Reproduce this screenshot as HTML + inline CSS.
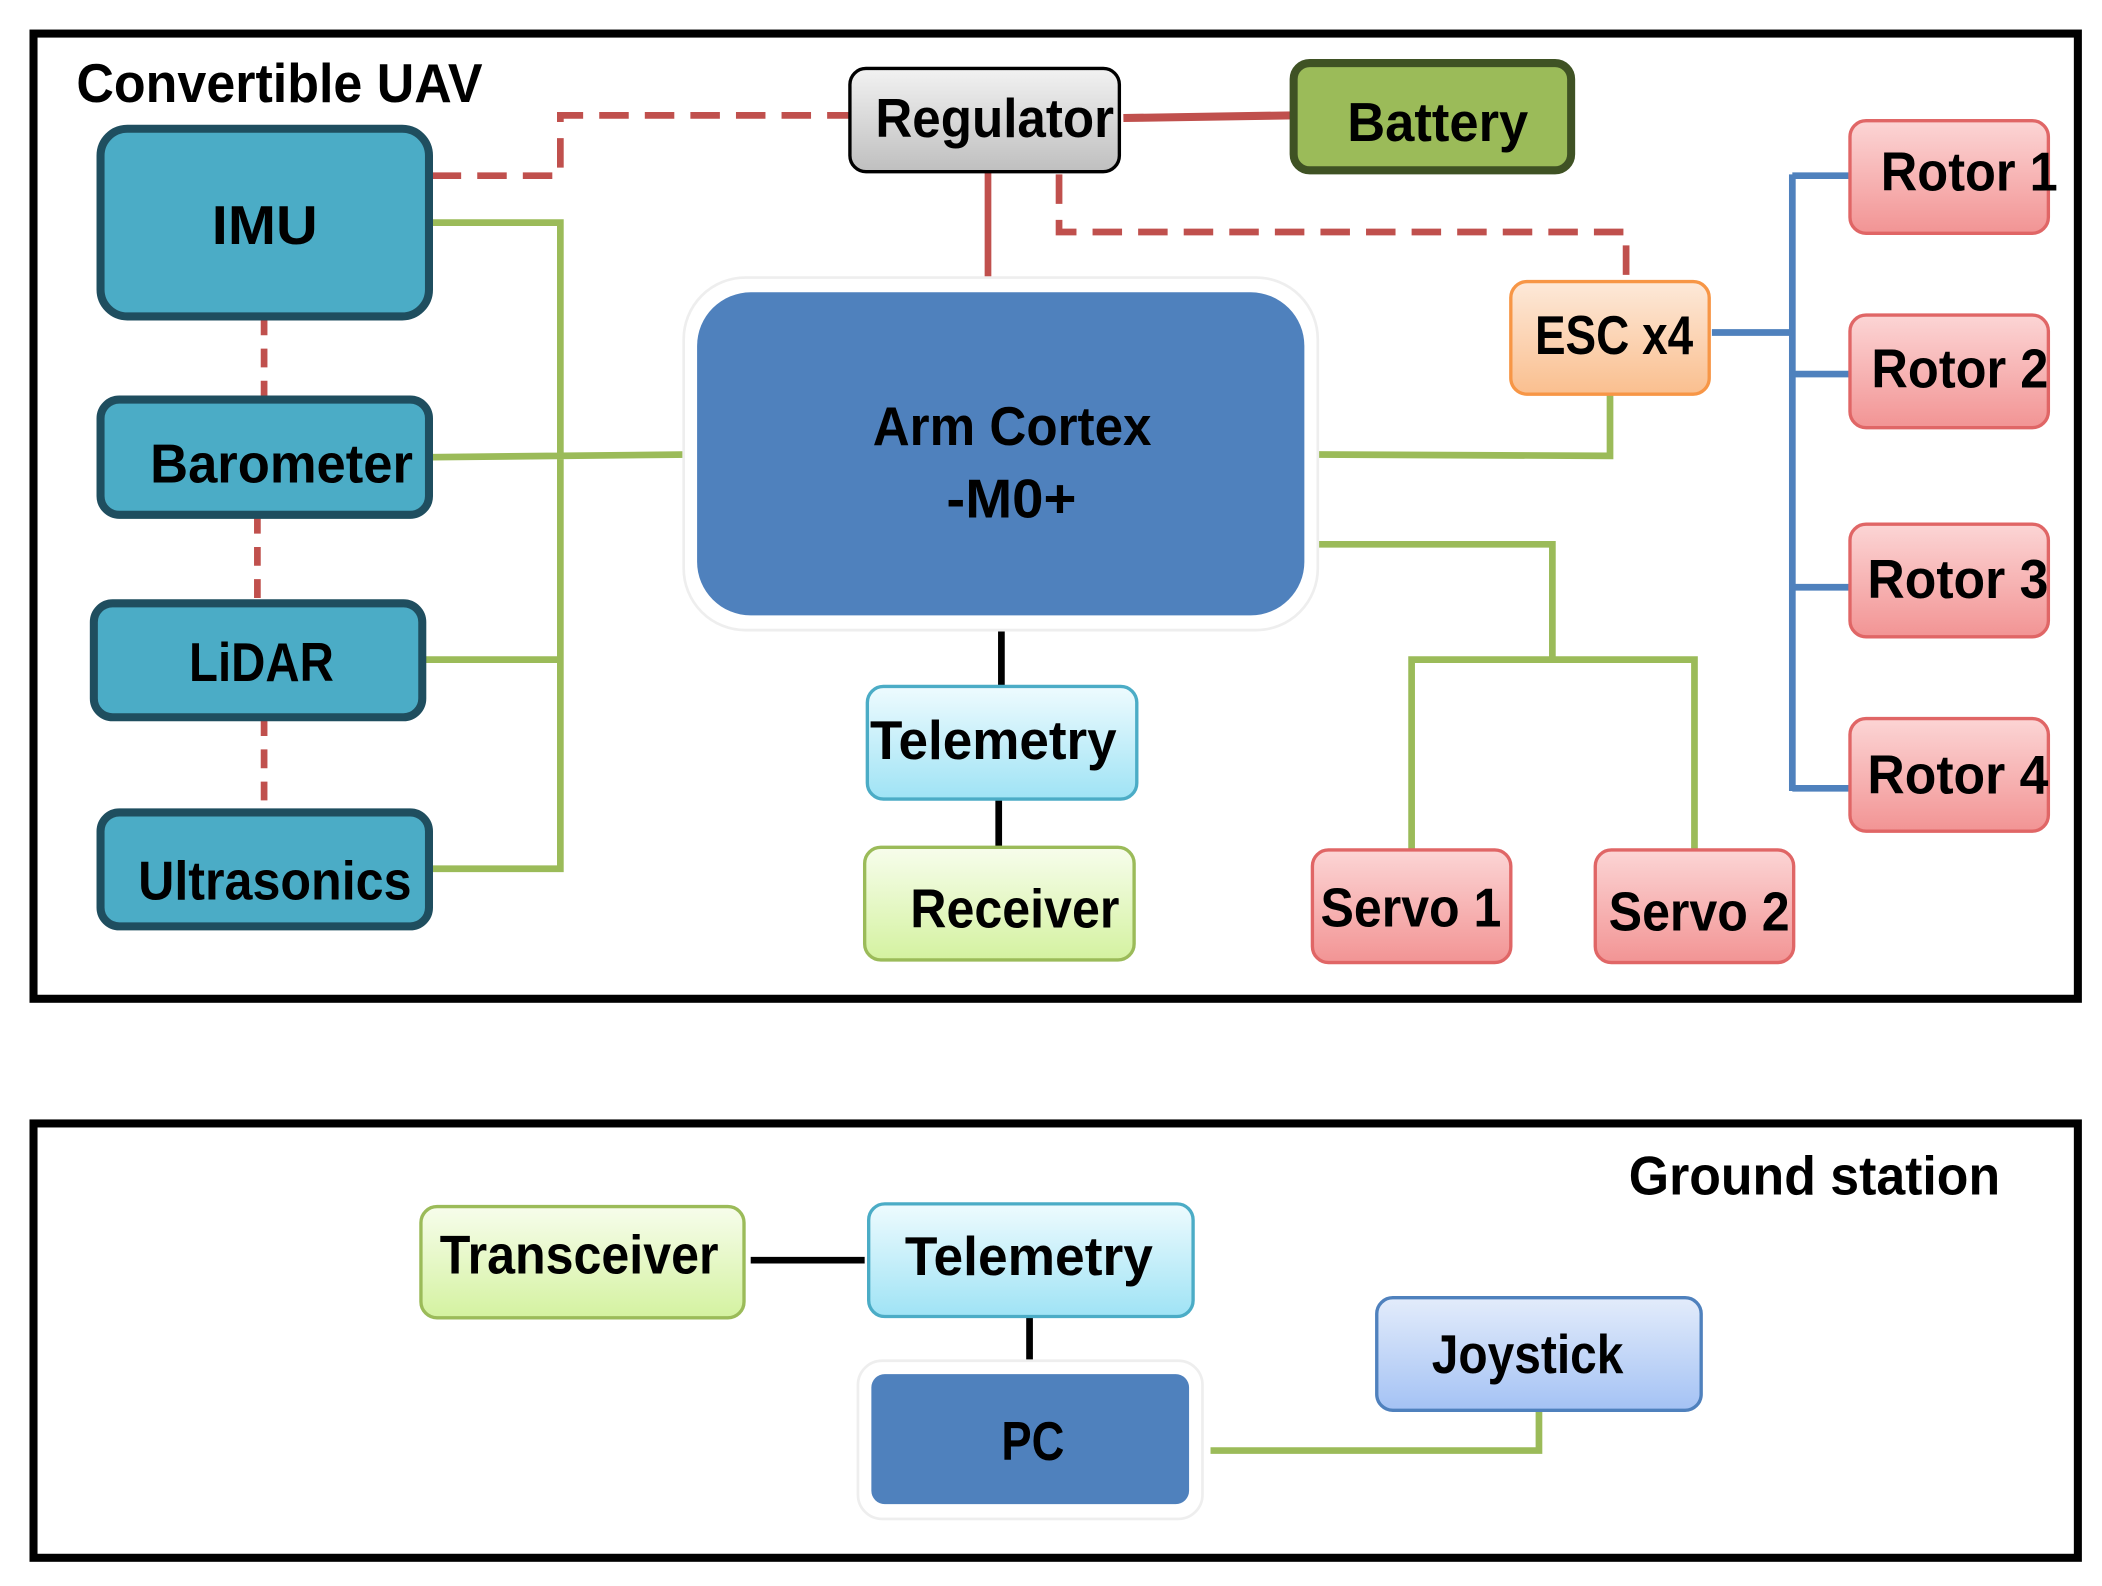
<!DOCTYPE html>
<html><head><meta charset="utf-8"><style>html,body{margin:0;padding:0;background:#fff}svg{display:block}</style></head>
<body>
<svg width="2102" height="1586" viewBox="0 0 1568 1183" xmlns="http://www.w3.org/2000/svg" font-family="'Liberation Sans', sans-serif" font-weight="bold" font-size="41">
<defs>
<linearGradient id="gGray" x1="0" y1="0" x2="0" y2="1"><stop offset="0" stop-color="#f2f2f2"/><stop offset="1" stop-color="#bfbfbf"/></linearGradient>
<linearGradient id="gOr" x1="0" y1="0" x2="0" y2="1"><stop offset="0" stop-color="#fde9d9"/><stop offset="1" stop-color="#fabf8f"/></linearGradient>
<linearGradient id="gPink" x1="0" y1="0" x2="0" y2="1"><stop offset="0" stop-color="#fcd5d5"/><stop offset="1" stop-color="#f29494"/></linearGradient>
<linearGradient id="gCyan" x1="0" y1="0" x2="0" y2="1"><stop offset="0" stop-color="#eefbfe"/><stop offset="1" stop-color="#9fe3f5"/></linearGradient>
<linearGradient id="gLg" x1="0" y1="0" x2="0" y2="1"><stop offset="0" stop-color="#f7fdec"/><stop offset="1" stop-color="#d4f2a0"/></linearGradient>
<linearGradient id="gBl" x1="0" y1="0" x2="0" y2="1"><stop offset="0" stop-color="#e3ecfb"/><stop offset="1" stop-color="#a4c2f4"/></linearGradient>
</defs>
<rect x="25" y="25" width="1525" height="720" fill="none" stroke="#000" stroke-width="6"/>
<rect x="25" y="838" width="1525" height="324" fill="none" stroke="#000" stroke-width="6"/>
<text x="57" y="76" textLength="303" lengthAdjust="spacingAndGlyphs">Convertible UAV</text>
<text x="1215" y="891" textLength="277" lengthAdjust="spacingAndGlyphs">Ground station</text>

<g fill="none" stroke-width="5">
<path d="M197 236V298M192 384V450M197 535V606" stroke="#c0504d" stroke-dasharray="14 10"/>
<path d="M322 131H418V86H634" stroke="#c0504d" stroke-dasharray="22 12"/>
<path d="M790 130V173H1213V210" stroke="#c0504d" stroke-dasharray="22 12"/>
<path d="M838 88L965 86" stroke="#c0504d" stroke-width="6"/>
<path d="M737 128V213" stroke="#c0504d"/>
<path d="M322 166H418V648H322M322 341L515 339M315 492H418" stroke="#9bbb59"/>
<path d="M980 339L1201 340V294M980 406H1158V492M1053 634V492H1264V634" stroke="#9bbb59"/>
<path d="M1277 248H1337M1337 130V590M1337 131H1380M1337 279H1380M1337 438H1380M1337 588H1380" stroke="#4f81bd"/>
<path d="M747 466V512M745 596V632M560 940H645M768 982V1025" stroke="#000"/>
<path d="M903 1082H1148V1052" stroke="#9bbb59"/>
</g>

<g fill="#4bacc6" stroke="#1f4e5f" stroke-width="6">
<rect x="75" y="96" width="245" height="140" rx="20"/>
<rect x="75" y="298" width="245" height="86" rx="14"/>
<rect x="70" y="450" width="245" height="85" rx="14"/>
<rect x="75" y="606" width="245" height="85" rx="14"/>
</g>
<text x="158" y="182" textLength="79" lengthAdjust="spacingAndGlyphs">IMU</text>
<text x="112" y="360" textLength="196" lengthAdjust="spacingAndGlyphs">Barometer</text>
<text x="141" y="508" textLength="108" lengthAdjust="spacingAndGlyphs">LiDAR</text>
<text x="103" y="671" textLength="204" lengthAdjust="spacingAndGlyphs">Ultrasonics</text>

<rect x="634" y="51" width="201" height="77" rx="12" fill="url(#gGray)" stroke="#000" stroke-width="2.5"/>
<text x="653" y="102" textLength="178" lengthAdjust="spacingAndGlyphs">Regulator</text>
<rect x="965" y="47" width="207" height="80" rx="12" fill="#9bbb59" stroke="#3f5224" stroke-width="6"/>
<text x="1005" y="105" textLength="135" lengthAdjust="spacingAndGlyphs">Battery</text>

<rect x="510" y="207" width="473" height="263" rx="46" fill="#fff" stroke="#eee" stroke-width="2"/>
<rect x="520" y="218" width="453" height="241" rx="40" fill="#4f81bd"/>
<text x="651" y="332" textLength="208" lengthAdjust="spacingAndGlyphs">Arm Cortex</text>
<text x="706" y="386" textLength="97" lengthAdjust="spacingAndGlyphs">-M0+</text>

<rect x="1127" y="210" width="148" height="84" rx="12" fill="url(#gOr)" stroke="#f79646" stroke-width="2.5"/>
<text x="1145" y="264" textLength="118" lengthAdjust="spacingAndGlyphs">ESC x4</text>

<g fill="url(#gPink)" stroke="#e06666" stroke-width="2.5">
<rect x="1380" y="90" width="148" height="84" rx="12"/>
<rect x="1380" y="235" width="148" height="84" rx="12"/>
<rect x="1380" y="391" width="148" height="84" rx="12"/>
<rect x="1380" y="536" width="148" height="84" rx="12"/>
<rect x="979" y="634" width="148" height="84" rx="12"/>
<rect x="1190" y="634" width="148" height="84" rx="12"/>
</g>
<text x="1403" y="142" textLength="132" lengthAdjust="spacingAndGlyphs">Rotor 1</text>
<text x="1396" y="289" textLength="132" lengthAdjust="spacingAndGlyphs">Rotor 2</text>
<text x="1393" y="446" textLength="135" lengthAdjust="spacingAndGlyphs">Rotor 3</text>
<text x="1393" y="592" textLength="135" lengthAdjust="spacingAndGlyphs">Rotor 4</text>
<text x="985" y="691" textLength="135" lengthAdjust="spacingAndGlyphs">Servo 1</text>
<text x="1200" y="694" textLength="135" lengthAdjust="spacingAndGlyphs">Servo 2</text>

<rect x="647" y="512" width="201" height="84" rx="12" fill="url(#gCyan)" stroke="#4bacc6" stroke-width="2.5"/>
<text x="649" y="566" textLength="184" lengthAdjust="spacingAndGlyphs">Telemetry</text>
<rect x="645" y="632" width="201" height="84" rx="12" fill="url(#gLg)" stroke="#9bbb59" stroke-width="2.5"/>
<text x="679" y="692" textLength="156" lengthAdjust="spacingAndGlyphs">Receiver</text>

<rect x="314" y="900" width="241" height="83" rx="12" fill="url(#gLg)" stroke="#9bbb59" stroke-width="2.5"/>
<text x="328" y="950" textLength="208" lengthAdjust="spacingAndGlyphs">Transceiver</text>
<rect x="648" y="898" width="242" height="84" rx="12" fill="url(#gCyan)" stroke="#4bacc6" stroke-width="2.5"/>
<text x="675" y="951" textLength="185" lengthAdjust="spacingAndGlyphs">Telemetry</text>
<rect x="640" y="1015" width="257" height="118" rx="18" fill="#fff" stroke="#eee" stroke-width="2"/>
<rect x="650" y="1025" width="237" height="97" rx="10" fill="#4f81bd"/>
<text x="747" y="1089" textLength="47" lengthAdjust="spacingAndGlyphs">PC</text>
<rect x="1027" y="968" width="242" height="84" rx="12" fill="url(#gBl)" stroke="#4f81bd" stroke-width="2.5"/>
<text x="1068" y="1024" textLength="143" lengthAdjust="spacingAndGlyphs">Joystick</text>
</svg>
</body></html>
